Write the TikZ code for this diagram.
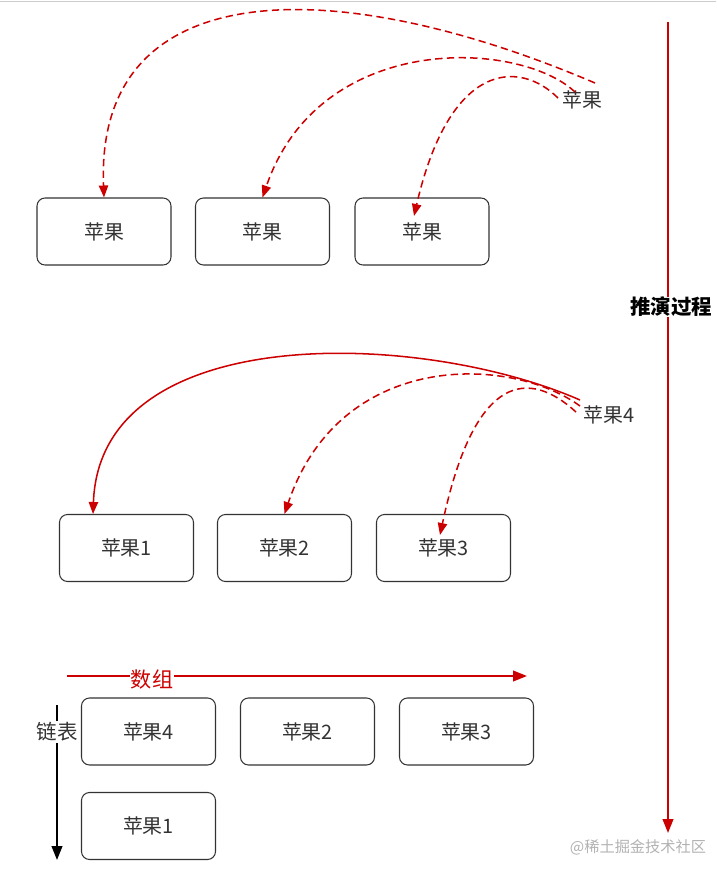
\documentclass[tikz,border=0pt]{standalone}
\usepackage{fontspec}
\setmainfont{Noto Sans CJK SC}
\usetikzlibrary{arrows.meta}
\definecolor{arrowred}{RGB}{204,0,0}
\definecolor{boxgray}{RGB}{51,51,51}
\tikzset{
  guo/.style={draw=boxgray, line width=0.9pt, rounded corners=0.24cm, minimum width=4.02cm, minimum height=2.01cm, text=boxgray, font=\fontsize{17}{20}\selectfont},
  tag/.style={text=boxgray, font=\fontsize{17}{20}\selectfont},
  move/.style={arrowred, line width=1.3pt, dash pattern=on 0.22cm off 0.13cm, -{Triangle[length=0.36cm,width=0.28cm]}},
  bigline/.style={line width=1.8pt, -{Triangle[length=0.42cm,width=0.32cm]}}
}
\begin{document}
\begin{tikzpicture}[x=0.03cm, y=-0.03cm]
    \useasboundingbox (0,0) rectangle (716,870);
    \draw[gray!40, line width=0.8pt] (0,1) -- (716,1);

    % Prima riga: tre cassetti e un solo frutto
    \node[guo] (a1) at (104,231.5) {苹果};
    \node[guo] (a2) at (262.5,231.5) {苹果};
    \node[guo] (a3) at (422,231.5) {苹果};
    \node[tag] (src1) at (582,100) {苹果};
    \coordinate (s1a) at (595,83);
    \coordinate (s1b) at (575,92);
    \coordinate (s1c) at (558,98);
    \coordinate (t3) at (414,216);
    \draw[move] (s1a) .. controls (330,-30) and (95,-25) .. (a1.north);
    \draw[move] (s1b) .. controls (520,40) and (320,30) .. (a2.north);
    \draw[move] (s1c) .. controls (520,60) and (450,60) .. (t3);

    % Seconda riga: il frutto 4 finisce nel primo cassetto
    \node[guo] (b1) at (126.5,548) {苹果1};
    \node[guo] (b2) at (284.5,548) {苹果2};
    \node[guo] (b3) at (443.5,548) {苹果3};
    \node[tag] (src4) at (609,415) {苹果4};
    \coordinate (s4a) at (580,400);
    \coordinate (s4b) at (580,406);
    \coordinate (s4c) at (576,412);
    \coordinate (u1) at (93,514);
    \coordinate (u3) at (440,535);
    \draw[arrowred, line width=1.3pt, -{Triangle[length=0.36cm,width=0.28cm]}] (s4a) .. controls (420,330) and (100,320) .. (u1);
    \draw[move] (s4b) .. controls (510,355) and (340,350) .. (b2.north);
    \draw[move] (s4c) .. controls (530,370) and (475,370) .. (u3);

    % Terza riga: array in orizzontale, lista in verticale
    \node[guo] (c1) at (148.5,731.5) {苹果4};
    \node[guo] (c2) at (307.5,731.5) {苹果2};
    \node[guo] (c3) at (466.5,731.5) {苹果3};
    \node[guo] (c4) at (148.5,826) {苹果1};
    \coordinate (arrL) at (67,676);
    \coordinate (arrR) at (527,676);
    \draw[bigline, arrowred] (arrL) -- (arrR);
    \node[fill=white, inner sep=1pt, text=arrowred, font=\fontsize{18}{21}\selectfont] (arrtag) at (152,679) {数组};
    \coordinate (lstT) at (57,705);
    \coordinate (lstB) at (57,860);
    \draw[bigline, black] (lstT) -- (lstB);
    \node[fill=white, inner sep=1pt, text=boxgray, font=\fontsize{17.5}{20}\selectfont] (lsttag) at (57,732) {链表};

    % Asse del ragionamento
    \coordinate (stepT) at (668,22);
    \coordinate (stepB) at (668,833);
    \draw[bigline, arrowred] (stepT) -- (stepB);
    \node[fill=white, inner sep=0.5pt, font=\bfseries\fontsize{17.5}{21}\selectfont] (steptag) at (671,307) {推演过程};

    \node[text=gray!60, font=\fontsize{13}{15}\selectfont] (mark) at (638,847) {@稀土掘金技术社区};
\end{tikzpicture}
\end{document}
